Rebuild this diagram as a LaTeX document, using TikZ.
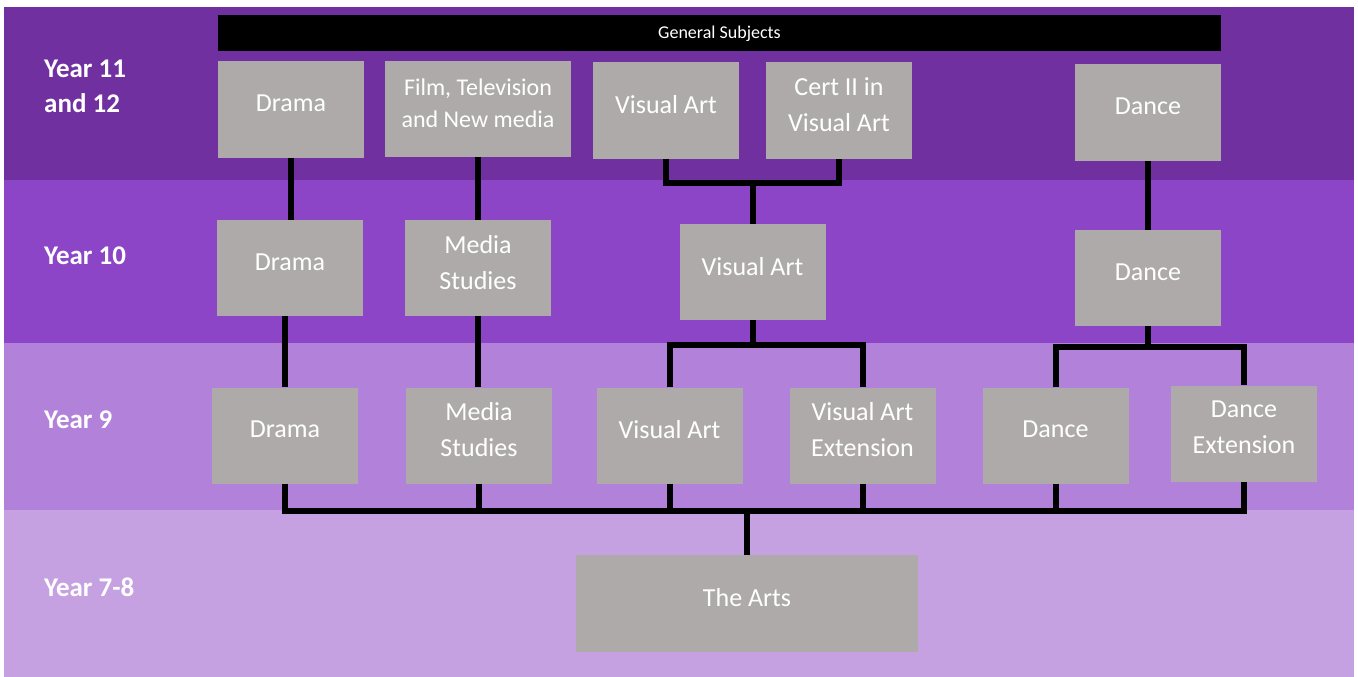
\documentclass[tikz,border=0pt]{standalone}
\usepackage{fontspec}
\setmainfont{Carlito}
\definecolor{bandA}{HTML}{7030A0}
\definecolor{bandB}{HTML}{8B45C6}
\definecolor{bandC}{HTML}{B281D9}
\definecolor{bandD}{HTML}{C6A1E2}
\definecolor{boxgray}{HTML}{AEAAAA}
\begin{document}
\begin{tikzpicture}[x=1pt,y=-1pt,
    subj/.style={fill=boxgray,text=white,inner sep=0pt,minimum width=146pt,minimum height=96pt,
      align=center,text depth=12pt,font=\fontsize{26}{36}\selectfont},
    yearlbl/.style={anchor=west,align=left,inner sep=0pt,text=white,font=\fontsize{27}{35}\selectfont\bfseries},
    link/.style={line width=6pt}]
    \useasboundingbox (0,0) rectangle (1358,677);
    % year bands
    \fill[white] (0,0) rectangle (1358,677);
    \fill[bandA] (4,7) rectangle (1354,180);
    \fill[bandB] (4,180) rectangle (1354,343);
    \fill[bandC] (4,343) rectangle (1354,510);
    \fill[bandD] (4,510) rectangle (1354,677);
    \node[yearlbl] (y12) at (44,86) {Year 11\\and 12};
    \node[yearlbl] (y10) at (44,256) {Year 10};
    \node[yearlbl] (y9) at (44,420) {Year 9};
    \node[yearlbl] (y78) at (44,587) {Year 7-8};
    \node[fill=black,text=white,inner sep=0pt,minimum width=1003pt,minimum height=36pt,
      text depth=1pt,font=\fontsize{18}{20}\selectfont] (gen) at (719.5,33) {General Subjects};
    % year 11 and 12
    \node[subj] (dr11) at (291,109.5) {Drama};
    \node[subj,minimum width=186pt,font=\fontsize{24}{32}\selectfont] (ftv11) at (478,109) {Film, Television\\and New media};
    \node[subj] (va11) at (666,110.5) {Visual Art};
    \node[subj] (cert11) at (839,110.5) {Cert II in\\Visual Art};
    \node[subj] (dn11) at (1148,112.5) {Dance};
    % year 10
    \node[subj] (dr10) at (290,268) {Drama};
    \node[subj] (ms10) at (478,268) {Media\\Studies};
    \node[subj] (va10) at (752.5,272) {Visual Art};
    \node[subj] (dn10) at (1148,278) {Dance};
    % year 9
    \node[subj] (dr9) at (285,435.5) {Drama};
    \node[subj] (ms9) at (479,435.5) {Media\\Studies};
    \node[subj] (va9) at (669.5,435.5) {Visual Art};
    \node[subj] (vae9) at (862.5,435.5) {Visual Art\\Extension};
    \node[subj] (dn9) at (1055.5,435.5) {Dance};
    \node[subj] (dne9) at (1244,433.5) {Dance\\Extension};
    % year 7-8
    \node[subj,minimum width=342pt,minimum height=97pt] (arts) at (747,603.5) {The Arts};
    \coordinate (vaj) at (752.5,183);
    \coordinate (vaj2) at (752.5,345);
    \coordinate (dnj) at (1148,347);
    \coordinate (artsj) at (747,511);
    % connectors
    \draw[link] (dr11.south) -- (dr11.south |- dr10.north);
    \draw[link] (ftv11.south) -- (ms10.north);
    \draw[link] (va11.south) |- (vaj) -| (cert11.south);
    \draw[link] (vaj) -- (va10.north);
    \draw[link] (dn11.south) -- (dn10.north);
    \draw[link] (dr9.north |- dr10.south) -- (dr9.north);
    \draw[link] (ms10.south) -- (ms10.south |- ms9.north);
    \draw[link] (va10.south) -- (vaj2);
    \draw[link] (va9.north) |- (vaj2) -| (vae9.north);
    \draw[link] (dn10.south) -- (dnj);
    \draw[link] (dn9.north) |- (dnj) -| (dne9.north);
    \draw[link] (dr9.south) |- (artsj) -| (dne9.south);
    \foreach \s in {ms9,va9,vae9,dn9}
        \draw[link] (\s.south) -- (\s.south |- artsj);
    \draw[link] (artsj) -- (arts.north);
\end{tikzpicture}
\end{document}
